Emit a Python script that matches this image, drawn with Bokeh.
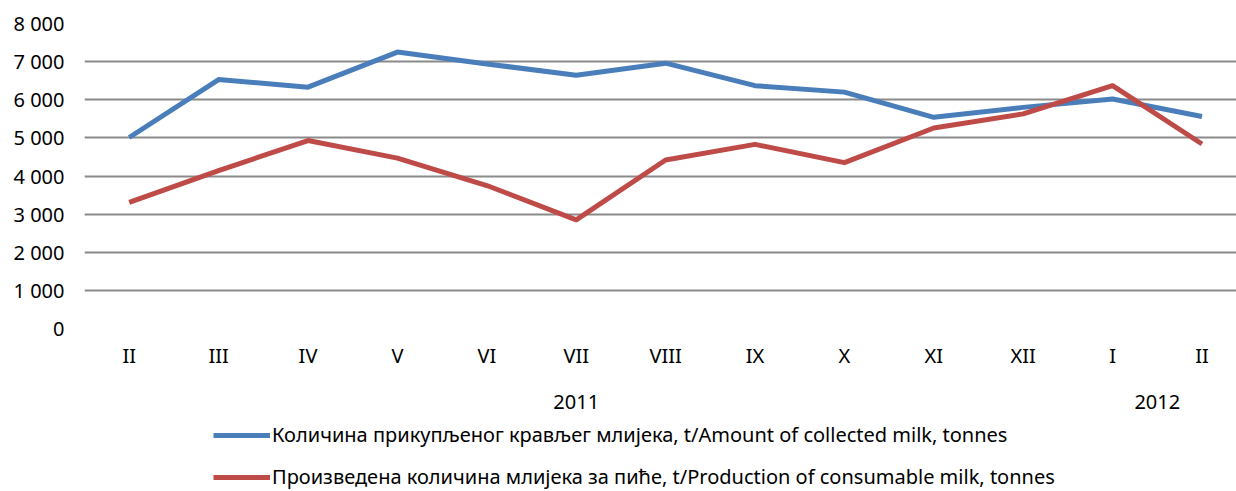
from bokeh.plotting import figure
from bokeh.layouts import column
from bokeh.models import FixedTicker, LinearAxis, Legend, LegendItem, Range1d
from bokeh.embed import file_html
from bokeh.resources import INLINE

# ---- data ----
months = ["II", "III", "IV", "V", "VI", "VII", "VIII", "IX", "X", "XI", "XII", "I", "II"]
years = ["2011", "2012"]
months_per_year = [11, 2]
collected = [5010, 6530, 6330, 7250, 6940, 6640, 6960, 6370, 6200, 5540, 5800, 6020, 5560]
consumable = [3310, 4140, 4930, 4470, 3750, 2850, 4420, 4830, 4350, 5260, 5630, 6370, 4840]
y_ticks = [0, 1000, 2000, 3000, 4000, 5000, 6000, 7000, 8000]
series_names = [
    "Количина прикупљеног крављег млијека, t/Amount of collected milk, tonnes",
    "Произведена количина млијека за пиће, t/Production of consumable milk, tonnes",
]
colors = ["#4a7ebb", "#be4b48"]

FONT = "Noto Sans"
FS = "20px"

idx = list(range(len(months)))

left_border = 84
band = 89.4
frame_w = 1152
x_range = Range1d(-0.5, -0.5 + frame_w / band)
p = figure(frame_width=frame_w, frame_height=305,
           output_backend="svg", toolbar_location=None,
           x_range=x_range, y_range=Range1d(0, 8000),
           min_border_left=left_border, min_border_right=0, min_border_top=23,
           min_border_bottom=90)
p.outline_line_color = None
p.background_fill_color = "white"
p.border_fill_color = "white"

# x axis (months)
p.xaxis.ticker = FixedTicker(ticks=idx)
p.xaxis.major_label_overrides = {i: m for i, m in enumerate(months)}
p.xaxis.axis_line_color = None
p.xaxis.major_tick_line_color = None
p.xaxis.minor_tick_line_color = None
p.xaxis.major_tick_out = 0
p.xaxis.major_label_standoff = 13
p.xaxis.major_label_text_font = FONT
p.xaxis.major_label_text_font_size = FS
p.xaxis.major_label_text_color = "black"

# year axis
year_pos = []
start = 0
for n in months_per_year:
    year_pos.append(start + (n - 1) / 2)
    start += n
yax = LinearAxis(ticker=FixedTicker(ticks=year_pos),
                 major_label_overrides={pos: y for pos, y in zip(year_pos, years)})
yax.axis_line_color = None
yax.major_tick_line_color = None
yax.minor_tick_line_color = None
yax.major_tick_out = 0
yax.major_label_standoff = 23
yax.major_label_text_font = FONT
yax.major_label_text_font_size = FS
yax.major_label_text_color = "black"
p.add_layout(yax, "below")

# y axis
p.yaxis.ticker = FixedTicker(ticks=y_ticks)
p.yaxis.major_label_overrides = {v: f"{v:,}".replace(",", " ") for v in y_ticks}
p.yaxis.axis_line_color = None
p.yaxis.major_tick_line_color = None
p.yaxis.minor_tick_line_color = None
p.yaxis.major_tick_out = 0
p.yaxis.major_label_standoff = 20
p.yaxis.major_label_text_font = FONT
p.yaxis.major_label_text_font_size = FS
p.yaxis.major_label_text_color = "black"

p.xgrid.grid_line_color = None
p.ygrid.grid_line_color = "#8a8a8a"
p.ygrid.grid_line_width = 2

p.line(idx, collected, line_color=colors[0], line_width=5, line_join="round")
p.line(idx, consumable, line_color=colors[1], line_width=5, line_join="round")

# legend strip below the chart (its lines use the same series but sit outside its view)
leg_h = 73
p2 = figure(width=1236, height=leg_h, output_backend="svg", toolbar_location=None,
            x_axis_type=None, y_axis_type=None, min_border=0,
            min_border_left=left_border, min_border_right=0,
            x_range=x_range, y_range=Range1d(-2, -1))
p2.outline_line_color = None
p2.grid.grid_line_color = None
p2.background_fill_color = "white"
p2.border_fill_color = "white"
k1 = p2.line(idx, collected, line_color=colors[0], line_width=5)
k2 = p2.line(idx, consumable, line_color=colors[1], line_width=5)
legend = Legend(items=[LegendItem(label=series_names[0], renderers=[k1]),
                       LegendItem(label=series_names[1], renderers=[k2])],
                location=(129, 1), orientation="vertical",
                glyph_width=57, glyph_height=20, label_height=20,
                label_standoff=2, spacing=15, padding=0, margin=0,
                border_line_color=None, background_fill_alpha=0,
                label_text_font=FONT, label_text_font_size=FS,
                label_text_color="black")
p2.add_layout(legend)

layout = column(p, p2, spacing=0)
open("out.html", "w").write(file_html(layout, INLINE))
